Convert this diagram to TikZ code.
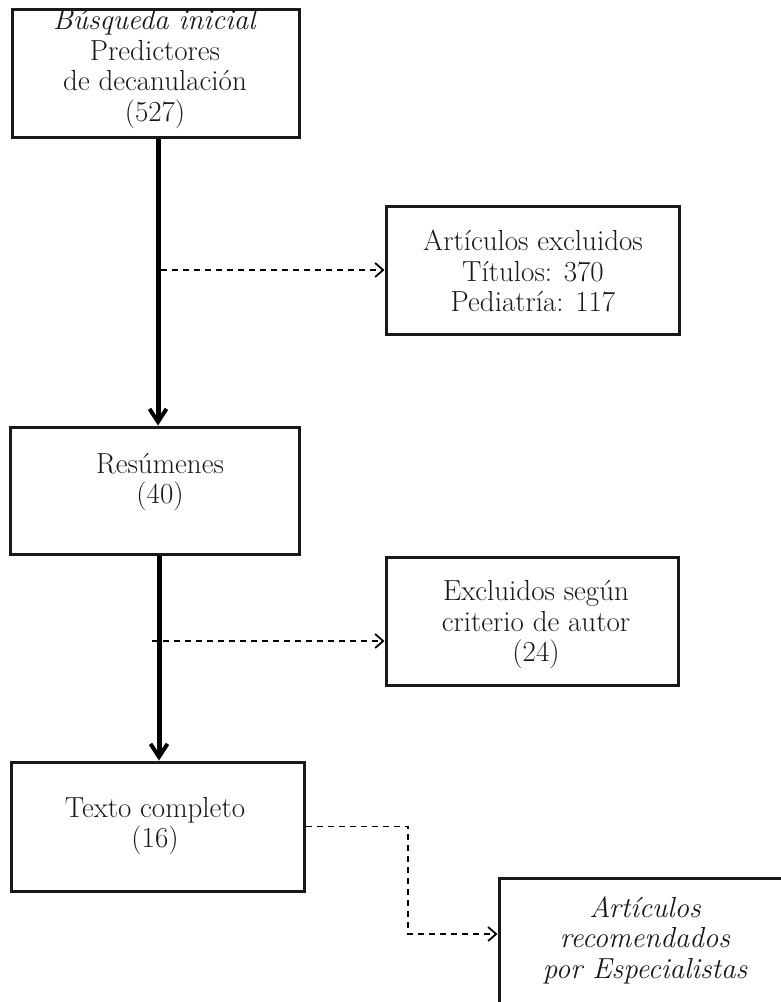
\documentclass[tikz,border=0pt]{standalone}
\usetikzlibrary{arrows.meta}
\begin{document}
\begin{tikzpicture}[x=1pt,y=-1pt,
  box/.style={draw=black!90, line width=3pt, inner sep=0pt, fill=white},
  lbl/.style={align=center, inner sep=0pt, font=\fontsize{29}{30.5}\selectfont, text=black!90},
  mainarrow/.style={line width=5pt, -{Straight Barb[length=13pt,width=17pt,line width=4pt]}},
  dasharrow/.style={line width=1.8pt, dash pattern=on 6pt off 5pt, -{Straight Barb[length=8pt,width=14pt,line width=1.8pt]}}
]
\useasboundingbox (0,0) rectangle (780,1002);
% boxes
\node[box, minimum width=287pt, minimum height=128pt] (b1) at (155.5,73) {};
\node[box, minimum width=289pt, minimum height=127pt] (b2) at (154.5,490.5) {};
\node[box, minimum width=293pt, minimum height=129pt] (b3) at (157.5,826.5) {};
\node[box, minimum width=293pt, minimum height=128pt] (b4) at (532.5,270) {};
\node[box, minimum width=292pt, minimum height=128pt] (b5) at (532,621) {};
\node[box, minimum width=293pt, minimum height=132pt] (b6) at (645.5,944) {};
% texts
\node[lbl] (t1) at (155,69) {\textit{Búsqueda inicial}\\Predictores\\de decanulación\\(527)};
\node[lbl] (t2) at (160,482) {Resúmenes\\(40)};
\node[lbl] (t3) at (155,826) {Texto completo\\(16)};
\node[lbl] (t4) at (533,271) {Artículos excluidos\\Títulos: 370\\Pediatría: 117};
\node[lbl] (t5) at (536,625) {Excluidos según\\criterio de autor\\(24)};
\node[lbl] (t6) at (645,940) {\itshape Artículos\\\itshape recomendados\\\itshape por Especialistas};
% main arrows
\draw[mainarrow] ([xshift=2.5pt]b1.south) -- ([xshift=3.5pt]b2.north);
\draw[mainarrow] ([xshift=4.5pt]b2.south) -- ([xshift=1.5pt]b3.north);
% dashed arrows
\coordinate (d1) at (161,270);
\coordinate (d2) at (152,641);
\coordinate (k3) at (408,934);
\draw[dasharrow] (d1) -- (b4.west);
\draw[dasharrow] (d2) -- (d2 -| b5.west);
\draw[dasharrow] (b3.east) -| (k3) -- (k3 -| b6.west);
\end{tikzpicture}
\end{document}
